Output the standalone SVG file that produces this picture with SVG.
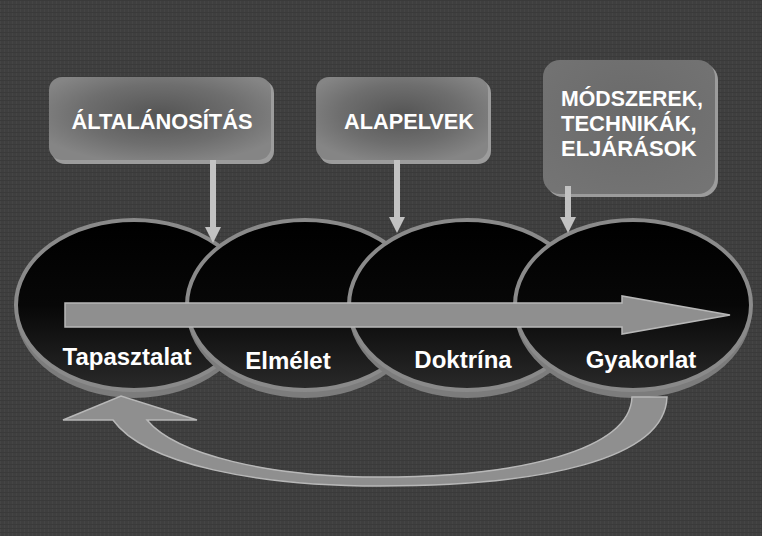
<svg xmlns="http://www.w3.org/2000/svg" width="762" height="536" viewBox="0 0 762 536">
<defs>
<radialGradient id="boxg" cx="0.5" cy="0.45" r="0.6">
<stop offset="0" stop-color="#555"/>
<stop offset="0.6" stop-color="#6e6e6e"/>
<stop offset="1" stop-color="#858585"/>
</radialGradient>
<radialGradient id="boxg3" cx="0.5" cy="0.4" r="0.7">
<stop offset="0" stop-color="#6a6a6a"/>
<stop offset="1" stop-color="#747474"/>
</radialGradient>
<linearGradient id="ellg" x1="0" y1="0" x2="0" y2="1">
<stop offset="0" stop-color="#000"/>
<stop offset="0.5" stop-color="#070707"/>
<stop offset="1" stop-color="#2a2a2a"/>
</linearGradient>
<pattern id="tex" width="4" height="4" patternUnits="userSpaceOnUse">
<rect width="4" height="4" fill="#3f3f3f"/>
<rect width="1" height="4" fill="#454545"/>
<rect width="4" height="1" fill="#3a3a3a"/>
</pattern>
</defs>
<style>
.rim{fill:#9c9c9c}
.box{stroke:none}
.ell{fill:url(#ellg);stroke:#8a8a8a;stroke-width:4}
.ellrim{fill:#7c7c7c}
.bt{font-family:"Liberation Sans",Arial,sans-serif;font-weight:bold;font-size:22px;fill:#fff}
.et{font-family:"Liberation Sans",Arial,sans-serif;font-weight:bold;font-size:24px;fill:#fff;text-anchor:middle}
.va{fill:#c2c2c2}
.big{fill:#8f8f8f;stroke:#b8b8b8;stroke-width:1.5}
</style>
<rect width="762" height="536" fill="url(#tex)"/>

<g id="box-altalanositas">
<rect class="rim" x="52" y="80" width="222" height="84" rx="13"/>
<rect class="box" x="49" y="77" width="222" height="83" rx="13" fill="url(#boxg)"/>
<text class="bt" x="162" y="129" text-anchor="middle" textLength="181" lengthAdjust="spacingAndGlyphs">ÁLTALÁNOSÍTÁS</text>
</g>
<g id="box-alapelvek">
<rect class="rim" x="319" y="80" width="172" height="84" rx="13"/>
<rect class="box" x="316" y="77" width="172" height="83" rx="13" fill="url(#boxg)"/>
<text class="bt" x="409" y="129" text-anchor="middle" textLength="130" lengthAdjust="spacingAndGlyphs">ALAPELVEK</text>
</g>
<g id="box-modszerek">
<rect class="rim" x="546" y="63" width="172" height="134" rx="17"/>
<rect class="box" x="543" y="60" width="172" height="134" rx="17" fill="url(#boxg3)"/>
<text class="bt" x="561" y="106" textLength="142" lengthAdjust="spacingAndGlyphs">MÓDSZEREK,</text>
<text class="bt" x="561" y="131">TECHNIKÁK,</text>
<text class="bt" x="561" y="156">ELJÁRÁSOK</text>
</g>

<g id="node-tapasztalat">
<ellipse class="ellrim" cx="134" cy="309" rx="119" ry="89"/>
<ellipse class="ell" cx="134" cy="305" rx="118" ry="85"/>
</g>
<g id="node-elmelet">
<ellipse class="ellrim" cx="305" cy="309" rx="119" ry="89"/>
<ellipse class="ell" cx="305" cy="305" rx="118" ry="85"/>
</g>
<g id="node-doktrina">
<ellipse class="ellrim" cx="467" cy="309" rx="119" ry="89"/>
<ellipse class="ell" cx="467" cy="305" rx="118" ry="85"/>
</g>
<g id="node-gyakorlat">
<ellipse class="ellrim" cx="633" cy="309" rx="119" ry="89"/>
<ellipse class="ell" cx="633" cy="305" rx="118" ry="85"/>
</g>

<g id="connectors">
<rect class="va" x="210" y="160" width="6" height="69"/>
<polygon class="va" points="205,227 221,227 213,243"/>
<rect class="va" x="394" y="160" width="6" height="59"/>
<polygon class="va" points="389,217 405,217 397,233"/>
<rect class="va" x="565" y="186" width="6" height="33"/>
<polygon class="va" points="560,217 576,217 568,233"/>
<polygon class="big" points="65,303 622,303 622,296 730,315 622,334 622,327 65,327"/>
<path class="big" d="M632 397 C630 450 520 477 380 477 C270 477 176 455 147 420 L197 420 L121 396 L63 420 L113 420 C145 465 260 486 380 486 C540 486 665 460 667 397 Z"/>
</g>

<g id="labels">
<text class="et" x="127" y="365">Tapasztalat</text>
<text class="et" x="288" y="369">Elmélet</text>
<text class="et" x="463" y="368">Doktrína</text>
<text class="et" x="641" y="368">Gyakorlat</text>
</g>
</svg>
